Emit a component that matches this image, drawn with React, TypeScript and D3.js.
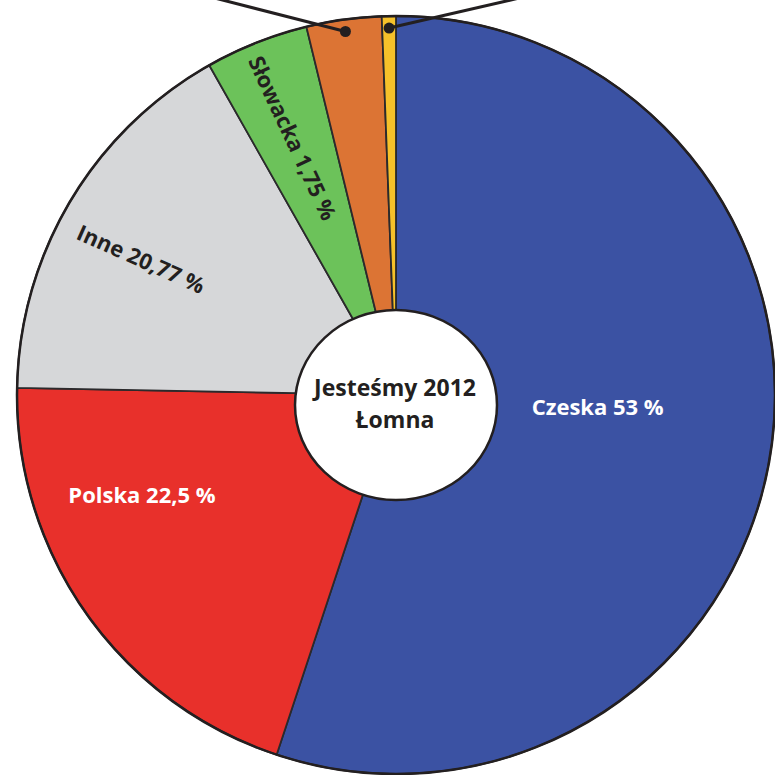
import React from 'react';
import * as d3 from 'd3';

// slice sizes as drawn (% of the circle)
const categories = ['Czeska', 'Polska', 'Inne', 'Słowacka', 'Inna 1', 'Inna 2'];
const drawnShares = [55.1, 20.2, 16.5, 4.4, 3.2, 0.6];
const labelTexts = ['Czeska 53 %', 'Polska 22,5 %', 'Inne 20,77 %', 'Słowacka 1,75 %', '', ''];
const colors = ['#3b52a3', '#e8302b', '#d6d7d9', '#6cc25a', '#dc7434', '#f6c12a'];
const labelColors = ['#ffffff', '#ffffff', '#231f20', '#231f20', '', ''];
const centerTitle = ['Jesteśmy 2012', 'Łomna'];

// label placement: angle (deg, clockwise from top), distance from centre, text rotation
const labelLayout = [
  { angle: 93.4, dist: 202, rotate: 0 },
  { angle: 248.5, dist: 273, rotate: 0 },
  { angle: 298, dist: 289, rotate: 24 },
  { angle: 338, dist: 277, rotate: 65 },
];

const W = 775, H = 775;
const cx = 396, cy = 395, R = 379;

export default function App() {
  const pie = d3.pie<number>().sort(null).value(d => d);
  const arcs = pie(drawnShares);
  const arc = d3.arc<d3.PieArcDatum<number>>().innerRadius(0).outerRadius(R);

  const polar = (deg: number, r: number) => {
    const a = (deg * Math.PI) / 180;
    return [cx + r * Math.sin(a), cy - r * Math.cos(a)];
  };

  // leader lines for the two thin slices (labels sit above the visible area)
  const leaders = [
    { i: 4, end: [-125, -32] },
    { i: 5, end: [104, -24] },
  ].map(l => {
    const a = arcs[l.i];
    const mid = ((a.startAngle + a.endAngle) / 2) * 180 / Math.PI;
    const [x, y] = polar(mid, 367);
    return { x, y, x2: x + l.end[0] * 1.4, y2: y + l.end[1] * 1.4 };
  });

  return (
    <svg width={W} height={H} style={{ position: 'fixed', left: 0, top: 0, background: '#fff' }}
      fontFamily="'Open Sans', sans-serif">
      <g transform={`translate(${cx},${cy})`}>
        {arcs.map((a, i) => (
          <path key={categories[i]} d={arc(a) || ''} fill={colors[i]} stroke="#2b2a2c" strokeWidth={1.8} strokeLinejoin="round" />
        ))}
        <circle r={R} fill="none" stroke="#231f20" strokeWidth={2.5} />
      </g>
      {leaders.map((l, k) => (
        <g key={k}>
          <line x1={l.x} y1={l.y} x2={l.x2} y2={l.y2} stroke="#231f20" strokeWidth={3} />
          <circle cx={l.x} cy={l.y} r={5.5} fill="#231f20" />
        </g>
      ))}
      {labelLayout.map((p, i) => {
        const [x, y] = polar(p.angle, p.dist);
        return (
          <text key={i} transform={`translate(${x},${y}) rotate(${p.rotate})`} textAnchor="middle" dy="0.35em"
            fontSize={22} fontWeight={700} fill={labelColors[i]}>
            {labelTexts[i]}
          </text>
        );
      })}
      <ellipse cx={cx} cy={cy + 10} rx={101} ry={95} fill="#fff" stroke="#231f20" strokeWidth={2.5} />
      <text x={cx - 1} y={cy + 1} textAnchor="middle" fontSize={23} fontWeight={700} fill="#231f20">{centerTitle[0]}</text>
      <text x={cx - 1} y={cy + 33} textAnchor="middle" fontSize={23} fontWeight={700} fill="#231f20">{centerTitle[1]}</text>
    </svg>
  );
}
